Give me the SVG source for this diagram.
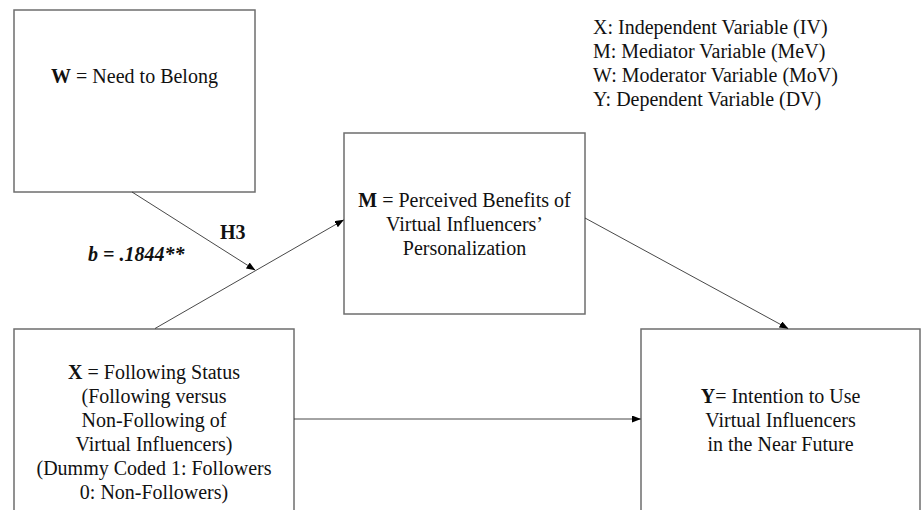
<svg xmlns="http://www.w3.org/2000/svg" width="921" height="510" viewBox="0 0 921 510">
<style>
.box{fill:#fff;stroke:#6e6e6e;stroke-width:1.5}
.t{font-family:'Liberation Serif','Times New Roman',Times,'DejaVu Serif',serif;font-size:20px;fill:#111}
.c{text-anchor:middle}
.b{font-weight:bold}
.conn{stroke:#333;stroke-width:0.9;fill:none}
</style>
<defs>
<marker id="arr" markerWidth="9" markerHeight="7" refX="8.5" refY="3.5" orient="auto" markerUnits="userSpaceOnUse">
<path d="M0,0 L9,3.5 L0,7 z" fill="#000"/>
</marker>
</defs>
<rect width="921" height="510" fill="#fff"/>
<g font-family="'Liberation Serif','Times New Roman',Times,'DejaVu Serif',serif">
<g id="legend" class="t">
<text x="593" y="34">X: Independent Variable (IV)</text>
<text x="593" y="58">M: Mediator Variable (MeV)</text>
<text x="593" y="82">W: Moderator Variable (MoV)</text>
<text x="593" y="106">Y: Dependent Variable (DV)</text>
</g>
<g id="nodeW">
<rect class="box" x="14" y="10" width="241" height="182"/>
<text class="t c" x="134.5" y="83"><tspan class="b">W</tspan> = Need to Belong</text>
</g>
<g id="nodeM">
<rect class="box" x="344" y="133" width="241" height="181"/>
<text class="t c" x="464.5" y="207"><tspan class="b">M</tspan> = Perceived Benefits of</text>
<text class="t c" x="464.5" y="231">Virtual Influencers’</text>
<text class="t c" x="464.5" y="255">Personalization</text>
</g>
<g id="nodeX">
<rect class="box" x="14" y="329" width="280" height="206"/>
<text class="t c" x="154" y="379"><tspan class="b">X</tspan> = Following Status</text>
<text class="t c" x="154" y="403">(Following versus</text>
<text class="t c" x="154" y="427">Non-Following of</text>
<text class="t c" x="154" y="451">Virtual Influencers)</text>
<text class="t c" x="154" y="475">(Dummy Coded 1: Followers</text>
<text class="t c" x="154" y="499">0: Non-Followers)</text>
</g>
<g id="nodeY">
<rect class="box" x="641" y="329" width="279" height="182"/>
<text class="t c" x="780.5" y="403"><tspan class="b">Y</tspan>= Intention to Use</text>
<text class="t c" x="780.5" y="427">Virtual Influencers</text>
<text class="t c" x="780.5" y="451">in the Near Future</text>
</g>
<g id="connectors">
<line class="conn" x1="155" y1="328.5" x2="343.5" y2="220" marker-end="url(#arr)"/>
<line class="conn" x1="132" y1="192" x2="255" y2="270" marker-end="url(#arr)"/>
<line class="conn" x1="585" y1="218" x2="788" y2="328.5" marker-end="url(#arr)"/>
<line class="conn" x1="294" y1="419" x2="640.5" y2="419" marker-end="url(#arr)"/>
</g>
<g id="labels" class="t b">
<text x="220" y="239">H3</text>
<text x="88" y="261" font-style="italic">b = .1844**</text>
</g>
</g>
</svg>
